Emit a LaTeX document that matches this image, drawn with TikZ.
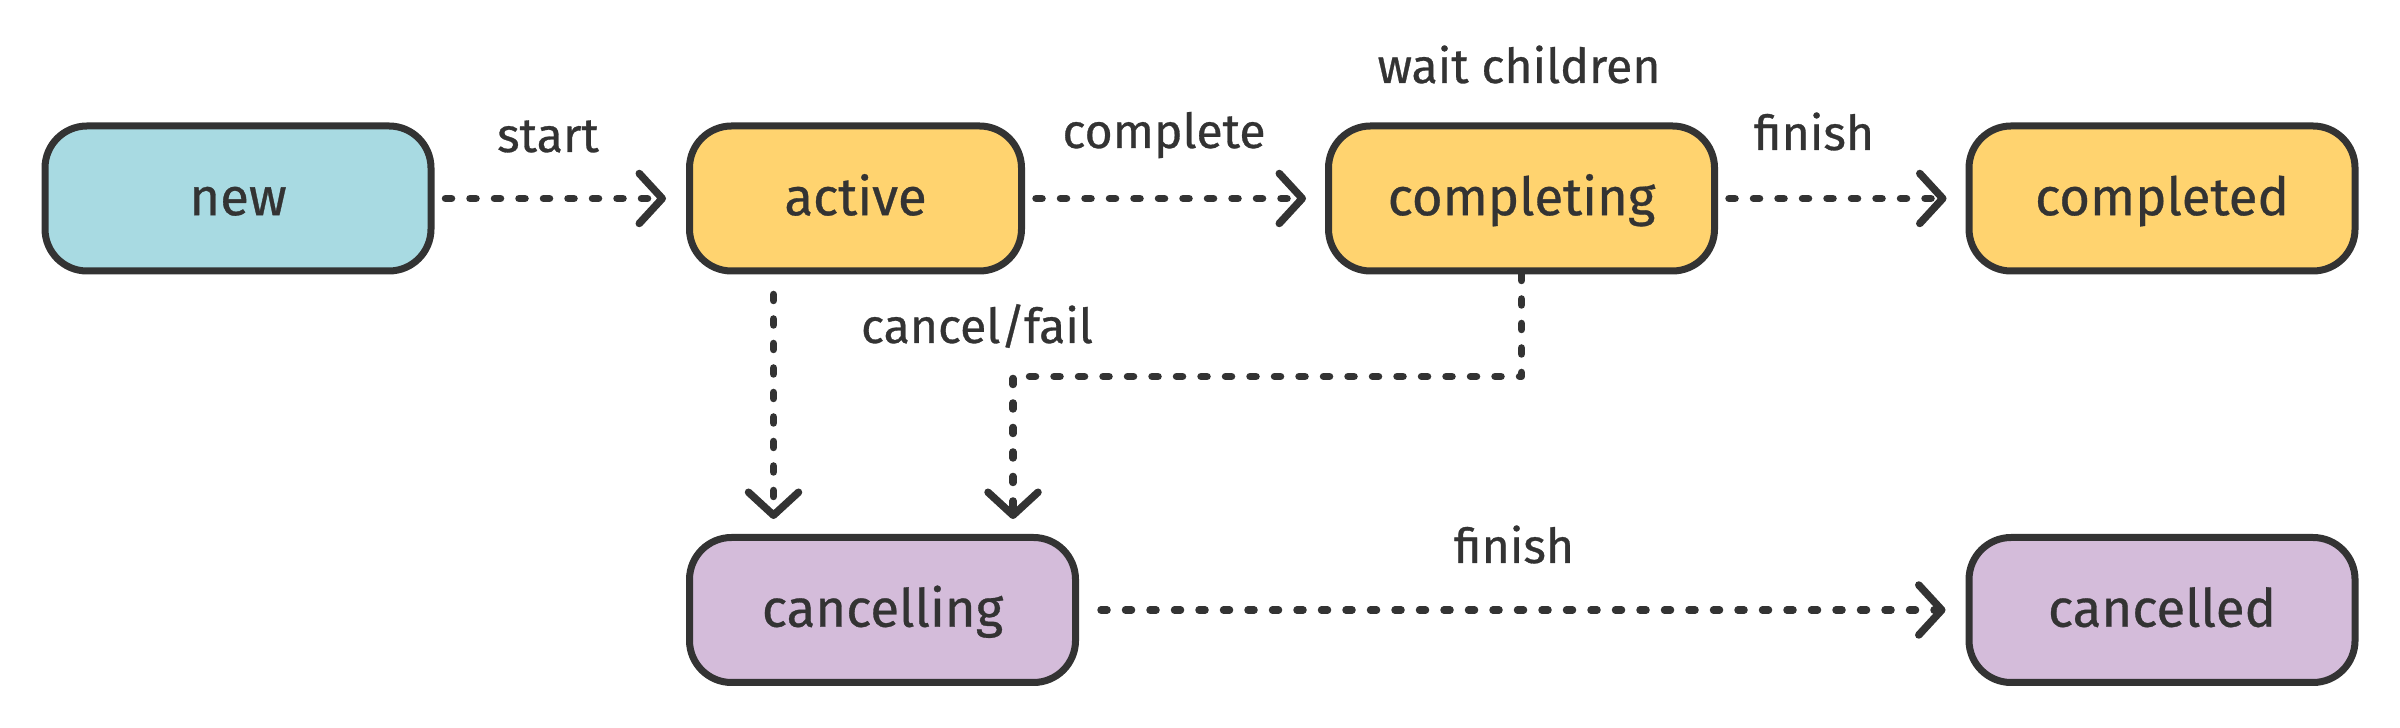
\documentclass[tikz,border=0pt]{standalone}
\usepackage{fontspec}
\setmainfont{Fira Sans}[FakeBold=0.6]
\usepackage{tikz}
\usetikzlibrary{arrows.meta}
\definecolor{ink}{HTML}{333333}
\definecolor{newfill}{HTML}{A8DAE2}
\definecolor{busyfill}{HTML}{FFD36F}
\definecolor{cancelfill}{HTML}{D4BCDA}

\begin{document}
\begin{tikzpicture}[line cap=round,line join=round,x=1.0cm,y=1.0cm,
  state/.style={draw=ink,line width=0.07cm,rounded corners=0.42cm,minimum width=3.86cm,minimum height=1.45cm,
    text=ink,text height=11.5pt,text depth=2pt,font=\fontsize{15}{18}\selectfont},
  flow/.style={draw=ink,line width=0.075cm,dash pattern=on 0.06cm off 0.185cm,
    -{Straight Barb[length=0.23cm,width=0.5cm,round]}},
  lbl/.style={anchor=base,text=ink,inner sep=0pt,font=\fontsize{13.7}{16}\selectfont}]
\useasboundingbox (0,0) rectangle (24,7.28);
% states
\node[state,fill=newfill] (new) at (2.38,5.295) {new};
\node[state,fill=busyfill,minimum width=3.32cm] (active) at (8.555,5.295) {active};
\node[state,fill=busyfill] (completing) at (15.215,5.295) {completing};
\node[state,fill=busyfill] (completed) at (21.62,5.295) {completed};
\node[state,fill=cancelfill] (cancelling) at (8.825,1.18) {cancelling};
\node[state,fill=cancelfill] (cancelled) at (21.62,1.18) {cancelled};
% transitions
\draw[flow,shorten <=0.11cm,shorten >=0.2cm] (new) -- (active);
\draw[flow,shorten <=0.11cm,shorten >=0.19cm] (active) -- (completing);
\draw[flow,shorten <=0.11cm,shorten >=0.19cm] (completing) -- (completed);
\draw[flow,shorten <=0.2cm,shorten >=0.15cm] ([xshift=-0.82cm]active.south) -- ([xshift=-0.82cm]active.south |- cancelling.north);
\draw[flow,shorten >=0.15cm] (completing.south) -- ++(0,-1.02) -| ([xshift=1.305cm]cancelling.north);
\draw[flow,shorten <=0.22cm,shorten >=0.2cm] (cancelling) -- (cancelled);
% labels
\node[lbl] (lstart) at (5.48,5.76) {start};
\node[lbl] (lcomplete) at (11.64,5.80) {complete};
\node[lbl] (lwait) at (15.19,6.45) {wait children};
\node[lbl] (lfinish) at (18.14,5.78) {finish};
\node[lbl] (lcancel) at (9.77,3.85) {cancel/fail};
\node[lbl] (lfinishb) at (15.14,1.65) {finish};
\end{tikzpicture}
\end{document}
